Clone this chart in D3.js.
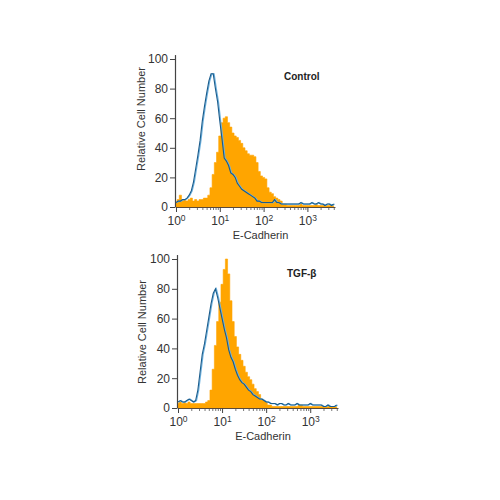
<!DOCTYPE html>
<html><head><meta charset="utf-8">
<script src="https://cdn.jsdelivr.net/npm/d3@7/dist/d3.min.js"></script>
<style>
html,body{margin:0;padding:0;background:#fff;}
svg{display:block;font-family:"Liberation Sans",Arial,sans-serif;}
</style></head>
<body><svg id="c" width="500" height="500"></svg>
<script>
const bins = [0.00,0.05,0.10,0.15,0.20,0.25,0.30,0.35,0.40,0.45,0.50,0.55,0.60,0.65,0.70,0.75,0.80,0.85,0.90,0.95,
1.00,1.05,1.10,1.15,1.20,1.25,1.30,1.35,1.40,1.45,1.50,1.55,1.60,1.65,1.70,1.75,1.80,1.85,1.90,1.95,
2.00,2.05,2.10,2.15,2.20,2.25,2.30,2.35,2.40,2.45,2.50,2.55,2.60,2.65,2.70,2.75,2.80,2.85,2.90,2.95,
3.00,3.05,3.10,3.15,3.20,3.25,3.30,3.35,3.40,3.45,3.50,3.55,3.60];

const controlIsotype = [3,4,4,5,5,6,8,11,17,26,35,45,58,68,77,85,90,90,80,71,
58,46,33,31,28,23,22,20,16,14,12,11,10,9,8,7,6,4,4,3,
3,3,3,3,3,5,3,3,2,2,2,2,2,2,2,2,2,3,2,2,
2,2,3,2,2,3,2,2,1,2,2,1,2];
const controlStain = [3,5,8,4,5,4,5,6,4,5,4,5,5,6,6,8,13,22,30,37,
48,57,60,61,57,54,50,48,47,45,43,40,38,36,35,35,34,30,24,21,
20,19,13,10,9,7,6,5,4,2,2,1,1,1,1,1,1,2,1,1,
1,1,1,1,2,1,1,1,1,1,1,1,1];
const tgfIsotype = [4,5,4,4,5,6,5,4,5,12,24,36,43,52,61,70,77,80,74,67,
60,53,47,39,34,31,26,22,19,17,16,14,12,11,9,8,7,6,6,5,
4,4,3,3,3,2,3,3,2,2,3,2,2,2,3,2,2,2,2,2,
3,2,2,2,2,2,1,1,2,1,1,1,2];
const tgfStain = [3,4,3,4,3,4,3,3,3,3,3,3,3,4,5,12,26,42,58,71,
83,93,100,90,72,58,48,41,36,32,28,24,21,19,16,13,11,9,6,5,
4,2,2,1,1,1,1,1,1,1,1,1,1,1,1,2,2,1,1,1,
1,1,1,1,1,1,1,1,1,1,1,1,1];

const yTicks = [0,20,40,60,80,100];
const xMajor = [1,10,100,1000];
const xMinorMult = [2,3,4,5,6,7,8,9];
const panelLabels = ["Control","TGF-\u03b2"];
const xTitle = "E-Cadherin";
const yTitle = "Relative Cell Number";

const panels = [
  {label: panelLabels[0], iso: controlIsotype, stain: controlStain,
   x0:176, x1:335, y0:207, y100:59, yTitleX:145, yTitleY:119, labelX:284, labelY:80, xTitleY:239, tickY:225},
  {label: panelLabels[1], iso: tgfIsotype, stain: tgfStain,
   x0:178, x1:338, y0:408, y100:259, yTitleX:146, yTitleY:332, labelX:287, labelY:277, xTitleY:440, tickY:426}
];

const svg = d3.select("#c");
const xMax = Math.pow(10, 3.63);
const axisColor = "#444";

panels.forEach(p => {
  const g = svg.append("g");
  const x = d3.scaleLog().domain([1, xMax]).range([p.x0, p.x1]);
  const unit = (p.y0 - p.y100) / 100;
  const y = d3.scaleLinear().domain([0, 103]).range([p.y0, p.y0 - 103*unit]);

  const pts = (vals) => bins.map((b,i) => [Math.pow(10,b), vals[i]]);

  const area = d3.area().curve(d3.curveStep)
    .x(d => x(d[0])).y0(y(0)).y1(d => y(d[1]));
  g.append("path").datum(pts(p.stain)).attr("d", area)
    .attr("fill", "#FFA500").attr("stroke", "#FFA500").attr("stroke-width", 0.6);

  const line = d3.line().curve(d3.curveLinear).x(d => x(d[0])).y(d => y(d[1]));
  g.append("path").datum(pts(p.iso)).attr("d", line)
    .attr("fill","none").attr("stroke","#6fb3e0").attr("stroke-width",1.2)
    .attr("transform","translate(0.9,0)");
  g.append("path").datum(pts(p.iso)).attr("d", line)
    .attr("fill","none").attr("stroke","#1a5c8c").attr("stroke-width",1.1);

  // y axis
  const ya = g.append("g").attr("transform", `translate(${p.x0 - 1},0)`)
    .call(d3.axisLeft(y).tickValues(yTicks).tickSize(5).tickSizeOuter(0).tickPadding(2));
  ya.select(".domain").attr("stroke", axisColor).attr("stroke-width",1.2);
  ya.selectAll(".tick line").attr("stroke", axisColor);
  ya.selectAll(".tick text").attr("fill","#333").style("font-size","12px").style("font-family","Liberation Sans, Arial, sans-serif");

  // x axis
  const minor = [];
  xMajor.forEach(m => xMinorMult.forEach(k => { if (m*k <= xMax) minor.push(m*k); }));
  const xaMinor = g.append("g").attr("transform", `translate(0,${p.y0})`)
    .call(d3.axisBottom(x).tickValues(minor).tickSize(3).tickSizeOuter(0).tickFormat(""));
  xaMinor.select(".domain").remove();
  xaMinor.selectAll(".tick line").attr("stroke", "#777");
  const xa = g.append("g").attr("transform", `translate(0,${p.y0})`)
    .call(d3.axisBottom(x).tickValues(xMajor).tickSize(5).tickSizeOuter(0).tickFormat(""));
  xa.select(".domain").attr("stroke", "#5a4a3a").attr("stroke-width",1.2);
  xa.selectAll(".tick line").attr("stroke", axisColor);
  xa.selectAll(".tick").each(function(d){
    const t = d3.select(this).append("text")
      .attr("y", p.tickY - p.y0).attr("text-anchor","middle").attr("fill","#333")
      .style("font-size","12px");
    t.append("tspan").text("10");
    t.append("tspan").attr("dy","-4").style("font-size","8.5px").text(String(Math.round(Math.log10(d))));
  });

  g.append("text").attr("transform", `translate(${p.yTitleX},${p.yTitleY}) rotate(-90)`)
    .attr("text-anchor","middle").attr("fill","#333").style("font-size","11px").text(yTitle);
  g.append("text").attr("x", (p.x0 + p.x1)/2 + 5).attr("y", p.xTitleY)
    .attr("text-anchor","middle").attr("fill","#333").style("font-size","11px").text(xTitle);
  g.append("text").attr("x", p.labelX).attr("y", p.labelY)
    .attr("fill","#222").style("font-size","10px").style("font-weight","bold").text(p.label);
});
</script></body></html>
